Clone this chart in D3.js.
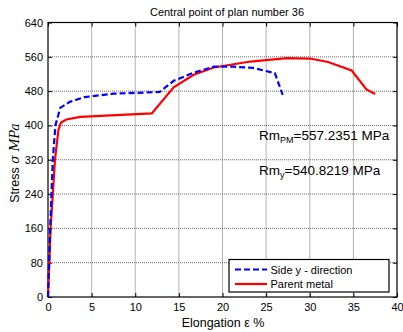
<!DOCTYPE html>
<html><head><meta charset="utf-8">
<script src="https://cdn.jsdelivr.net/npm/d3@7"></script>
<style>
body{margin:0;background:#fff;}
text{font-family:"Liberation Sans",Arial,sans-serif;fill:#000;}
</style></head>
<body><svg id="c" width="403" height="332"></svg>
<script>
const title = "Central point of plan number 36";
const xTicks = [0,5,10,15,20,25,30,35,40];
const yTicks = [0,80,160,240,320,400,480,560,640];
const sideY = [[0,0],[0.25,160],[0.55,320],[0.85,400],[1.4,441],[2.5,455],[4.2,466],[7.5,474],[12.8,478],[14.4,504],[16.7,523],[19.0,537],[21.3,537],[23.5,534],[26.0,522],[26.9,471]];
const parent = [[0,0],[0.3,160],[0.8,320],[1.2,390],[1.5,407],[2.1,414],[3.7,420],[11.9,428],[14.4,489],[16.7,518],[19.0,535],[23.2,549],[27.4,557],[30.0,556],[32.1,548],[34.8,528],[36.5,484],[37.5,473.5]];
const seriesNames = ["Side y - direction","Parent metal"];

const svg = d3.select("#c");
const L=48,R=397,T=22.5,B=297;
const x = d3.scaleLinear().domain([0,40]).range([L,R]);
const y = d3.scaleLinear().domain([0,640]).range([B,T]);

// grid
const g = svg.append("g");
g.selectAll(".vx").data(xTicks.slice(1,-1)).enter().append("line")
 .attr("x1",d=>x(d)).attr("x2",d=>x(d)).attr("y1",T).attr("y2",B)
 .attr("stroke","#444").attr("stroke-width",0.8).attr("stroke-dasharray","1,1");
g.selectAll(".hy").data(yTicks.slice(1,-1)).enter().append("line")
 .attr("y1",d=>y(d)).attr("y2",d=>y(d)).attr("x1",L).attr("x2",R)
 .attr("stroke","#444").attr("stroke-width",0.8).attr("stroke-dasharray","1,1");

// axes
svg.append("g").attr("transform",`translate(0,${B})`)
 .call(d3.axisBottom(x).tickValues(xTicks).tickSize(-4).tickPadding(6));
svg.append("g").attr("transform",`translate(${L},0)`)
 .call(d3.axisLeft(y).tickValues(yTicks).tickSize(-4).tickPadding(5));
svg.append("g").attr("transform",`translate(0,${T})`)
 .call(d3.axisTop(x).tickValues(xTicks).tickSize(-4).tickFormat(""));
svg.append("g").attr("transform",`translate(${R},0)`)
 .call(d3.axisRight(y).tickValues(yTicks).tickSize(-4).tickFormat(""));
svg.selectAll(".domain").remove();
svg.selectAll(".tick line").attr("stroke","#000");
svg.selectAll(".tick text").attr("font-size",11).attr("font-family","Liberation Sans, Arial, sans-serif").attr("fill","#000");
svg.append("rect").attr("x",L).attr("y",T).attr("width",R-L).attr("height",B-T)
 .attr("fill","none").attr("stroke","#000").attr("stroke-width",1.2);

// lines
const line = d3.line().x(d=>x(d[0])).y(d=>y(d[1]));
svg.append("path").datum(parent).attr("d",line).attr("fill","none")
 .attr("stroke","#ff0000").attr("stroke-width",2.2);
svg.append("path").datum(sideY).attr("d",line).attr("fill","none")
 .attr("stroke","#0000ff").attr("stroke-width",2.2).attr("stroke-dasharray","6,3");

// title & labels
svg.append("text").attr("x",227).attr("y",16).attr("text-anchor","middle").attr("font-size",11).text(title);
svg.append("text").attr("x",223).attr("y",327).attr("text-anchor","middle").attr("font-size",12.5)
 .text("Elongation ε %");
const yl = svg.append("text").attr("transform","translate(19,163) rotate(-90)").attr("text-anchor","middle").attr("font-size",12.5);
yl.append("tspan").text("Stress ");
yl.append("tspan").attr("font-style","italic").attr("font-family","DejaVu Serif, serif").text("σ MPa");

// annotations
const a1 = svg.append("text").attr("x",259).attr("y",140).attr("font-size",13.5);
a1.append("tspan").text("Rm");
a1.append("tspan").attr("font-size",9).attr("dy",3).text("PM");
a1.append("tspan").attr("dy",-3).text("=557.2351 MPa");
const a2 = svg.append("text").attr("x",259).attr("y",175).attr("font-size",13.5);
a2.append("tspan").text("Rm");
a2.append("tspan").attr("font-size",9).attr("dy",3).text("y");
a2.append("tspan").attr("dy",-3).text("=540.8219 MPa");

// legend
const lg = svg.append("g");
lg.append("rect").attr("x",229).attr("y",259.5).attr("width",160).attr("height",32.5)
 .attr("fill","#fff").attr("stroke","#000").attr("stroke-width",1.2);
const styles=[{c:"#0000ff",d:"6,3"},{c:"#ff0000",d:null}];
seriesNames.forEach((n,i)=>{
  const yy = 269.5 + i*14.5;
  const l = lg.append("line").attr("x1",235).attr("x2",267).attr("y1",yy).attr("y2",yy)
   .attr("stroke",styles[i].c).attr("stroke-width",2.2);
  if(styles[i].d) l.attr("stroke-dasharray",styles[i].d);
  lg.append("text").attr("x",270.5).attr("y",yy+4).attr("font-size",11).text(n);
});
</script></body></html>
